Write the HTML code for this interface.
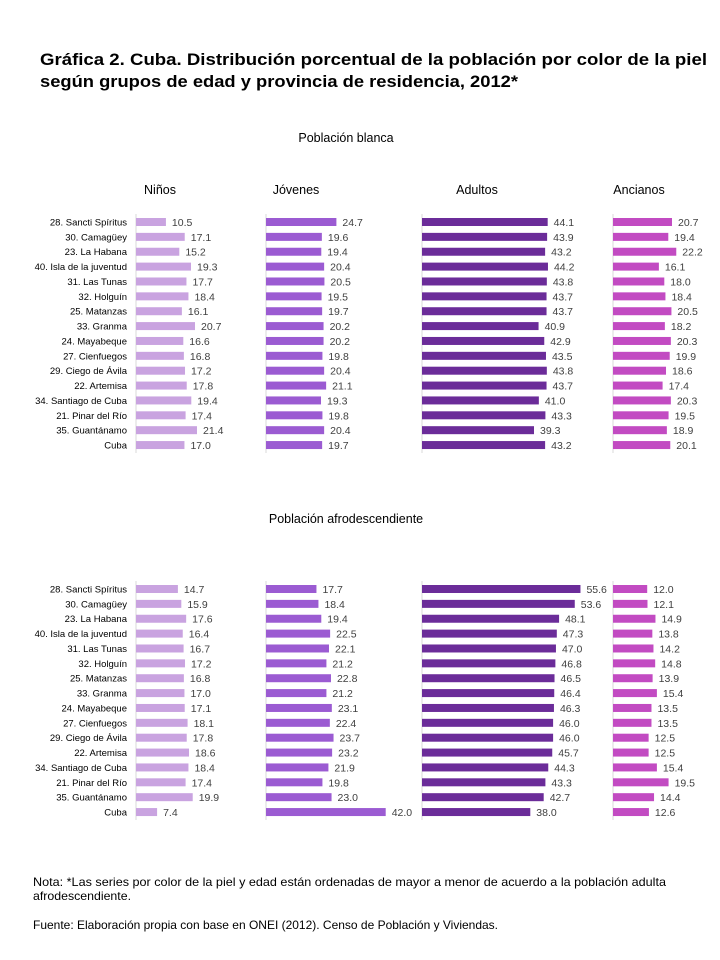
<!DOCTYPE html>
<html><head><meta charset="utf-8"><style>
html,body{margin:0;padding:0;background:#fff;}
svg{display:block;font-family:"Liberation Sans",sans-serif;}
</style></head><body>
<svg id="c" width="720" height="960" viewBox="0 0 720 960">
<text x="40" y="65" font-size="17" font-weight="bold" textLength="667" lengthAdjust="spacingAndGlyphs" fill="#000">Gráfica 2. Cuba. Distribución porcentual de la población por color de la piel</text>
<text x="40" y="87" font-size="17" font-weight="bold" textLength="478" lengthAdjust="spacingAndGlyphs" fill="#000">según grupos de edad y provincia de residencia, 2012*</text>
<text x="346" y="142" font-size="12.5" text-anchor="middle" fill="#000">Población blanca</text>
<text x="346" y="523" font-size="12.5" text-anchor="middle" fill="#000">Población afrodescendiente</text>
<text x="33" y="886" font-size="12" textLength="633" lengthAdjust="spacingAndGlyphs" fill="#000">Nota: *Las series por color de la piel y  edad están ordenadas de mayor a menor de acuerdo a la población adulta</text>
<text x="33" y="900" font-size="12" textLength="98" lengthAdjust="spacingAndGlyphs" fill="#000">afrodescendiente.</text>
<text x="33" y="929" font-size="12" textLength="465" lengthAdjust="spacingAndGlyphs" fill="#000">Fuente: Elaboración propia con base en ONEI (2012). Censo de Población y Viviendas.</text>
</svg>
<script>
const catsTop = ["28. Sancti Spíritus","30. Camagüey","23. La Habana","40. Isla de la juventud","31. Las Tunas","32. Holguín","25. Matanzas","33. Granma","24. Mayabeque","27. Cienfuegos","29. Ciego de Ávila","22. Artemisa","34. Santiago de Cuba","21. Pinar del Río","35. Guantánamo","Cuba"];
const catsBottom = catsTop;
const groups = ["Niños","Jóvenes","Adultos","Ancianos"];
const blancaNinos = [10.5,17.1,15.2,19.3,17.7,18.4,16.1,20.7,16.6,16.8,17.2,17.8,19.4,17.4,21.4,17.0];
const blancaJovenes = [24.7,19.6,19.4,20.4,20.5,19.5,19.7,20.2,20.2,19.8,20.4,21.1,19.3,19.8,20.4,19.7];
const blancaAdultos = [44.1,43.9,43.2,44.2,43.8,43.7,43.7,40.9,42.9,43.5,43.8,43.7,41.0,43.3,39.3,43.2];
const blancaAncianos = [20.7,19.4,22.2,16.1,18.0,18.4,20.5,18.2,20.3,19.9,18.6,17.4,20.3,19.5,18.9,20.1];
const afroNinos = [14.7,15.9,17.6,16.4,16.7,17.2,16.8,17.0,17.1,18.1,17.8,18.6,18.4,17.4,19.9,7.4];
const afroJovenes = [17.7,18.4,19.4,22.5,22.1,21.2,22.8,21.2,23.1,22.4,23.7,23.2,21.9,19.8,23.0,42.0];
const afroAdultos = [55.6,53.6,48.1,47.3,47.0,46.8,46.5,46.4,46.3,46.0,46.0,45.7,44.3,43.3,42.7,38.0];
const afroAncianos = [12.0,12.1,14.9,13.8,14.2,14.8,13.9,15.4,13.5,13.5,12.5,12.5,15.4,19.5,14.4,12.6];

const svg = document.getElementById('c');
const NS = "http://www.w3.org/2000/svg";
const origins = [136,266,422,613];
const colors = ["#c9a3e0","#9b5bd2","#6b2c99","#c24bc2"];
const scale = 2.85;
const xs = (g,v)=>origins[g]+v*scale;
const step = 14.87;
function mk(tag,attrs){const e=document.createElementNS(NS,tag);for(const k in attrs)e.setAttribute(k,attrs[k]);svg.appendChild(e);return e;}

groups.forEach((g,i)=>{
  const hx=[160,296,477,639][i];
  const t=mk('text',{x:hx,y:194,'font-size':12.5,'text-anchor':'middle',fill:'#000'});
  
  
  t.textContent=g;
});

function panel(cats,series,y0,key){
  const ys=i=>y0+i*step;
  origins.forEach((o,g)=>{
    const l=mk('line',{x1:o,x2:o,y1:ys(0)-8,y2:ys(cats.length-1)+8,stroke:'#d9d9d9','stroke-width':1});
    
    
  });
  cats.forEach((c,i)=>{
    const t=mk('text',{x:127,y:ys(i)+3.5,'font-size':9.5,'text-anchor':'end',fill:'#000'});
    
    
    t.textContent=c;
  });
  series.forEach((arr,g)=>{
    arr.forEach((v,i)=>{
      const r=mk('rect',{x:origins[g],y:ys(i)-4,width:xs(g,v)-origins[g],height:8,fill:colors[g]});
      
      
      const t=mk('text',{x:xs(g,v)+6,y:ys(i)+4,'font-size':10.5,fill:'#404040'});
      
      
      t.textContent=v.toFixed(1);
    });
  });
}
panel(catsTop,[blancaNinos,blancaJovenes,blancaAdultos,blancaAncianos],222,'blanca');
panel(catsBottom,[afroNinos,afroJovenes,afroAdultos,afroAncianos],589,'afro');
</script>
</body></html>
